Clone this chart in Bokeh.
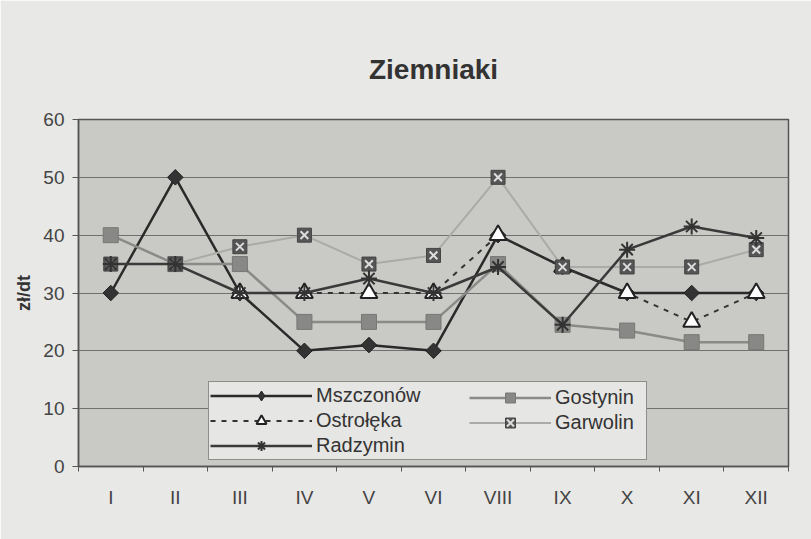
import numpy as np
from bokeh.plotting import figure
from bokeh.models import Range1d, FixedTicker, Legend, LegendItem, Title
from bokeh.embed import file_html
from bokeh.resources import INLINE

months = ["I", "II", "III", "IV", "V", "VI", "VIII", "IX", "X", "XI", "XII"]
mszczonow = [30, 50, 30, 20, 21, 20, 40, 34.5, 30, 30, 30]
gostynin = [40, 35, 35, 25, 25, 25, 35, 24.5, 23.5, 21.5, 21.5]
ostroleka = [np.nan, np.nan, 30, 30, 30, 30, 40, 34.5, 30, 25, 30]
garwolin = [35, 35, 38, 40, 35, 36.5, 50, 34.5, 34.5, 34.5, 37.5]
radzymin = [35, 35, 30, 30, 32.5, 30, 34.5, 24.5, 37.5, 41.5, 39.5]
title_text = "Ziemniaki"
y_ticks = [0, 10, 20, 30, 40, 50, 60]

x = list(range(1, len(months) + 1))
FONT = "Liberation Sans"

p = figure(width=811, height=539, output_backend="svg", toolbar_location=None,
           x_range=Range1d(0.5, len(months) + 0.5), y_range=Range1d(0, 60),
           title=None, min_border_left=78, min_border_right=23,
           min_border_bottom=73, min_border_top=119)

p.background_fill_color = "#c9c9c6"
p.border_fill_color = "#e8e8e6"
p.outline_line_color = "#555555"
p.outline_line_width = 1.5

# spacer between frame and title, then the title itself
spacer = Title(text=" ", text_font=FONT, text_font_size="30px", standoff=0)
main_title = Title(text=title_text, align="center", text_font=FONT,
                   text_font_size="28px", text_font_style="bold",
                   text_color="#333333", standoff=0)
p.add_layout(spacer, "above")
p.add_layout(main_title, "above")

p.xaxis.ticker = FixedTicker(ticks=x, minor_ticks=[i + 0.5 for i in range(0, len(months) + 1)])
p.xaxis.major_label_overrides = {i: m for i, m in zip(x, months)}
p.xaxis.major_tick_line_color = None
p.xaxis.minor_tick_line_color = "#555555"
p.xaxis.minor_tick_out = 5
p.xaxis.minor_tick_in = 0
p.xaxis.major_label_standoff = 14

p.yaxis.ticker = FixedTicker(ticks=y_ticks)
p.yaxis.minor_tick_line_color = None
p.yaxis.major_tick_line_color = "#555555"
p.yaxis.major_tick_out = 6
p.yaxis.major_tick_in = 0
p.yaxis.axis_label = "zł/dt"
p.yaxis.axis_label_text_font = FONT
p.yaxis.axis_label_text_font_style = "bold"
p.yaxis.axis_label_text_font_size = "18px"
p.yaxis.axis_label_text_color = "#333333"
p.yaxis.axis_label_standoff = 6
p.yaxis.major_label_standoff = 8

for ax in (p.xaxis, p.yaxis):
    ax.axis_line_color = "#555555"
    ax.axis_line_width = 1.5
    ax.major_label_text_font = FONT
    ax.major_label_text_font_size = "19px"
    ax.major_label_text_color = "#444444"

p.xgrid.grid_line_color = None
p.ygrid.grid_line_color = "#707070"
p.ygrid.grid_line_width = 1

# Mszczonów
l1 = p.line(x, mszczonow, line_color="#2a2a2a", line_width=2.5)
m1_leg = p.scatter(x, mszczonow, marker="diamond", size=13, fill_color="#333333", line_color="#222222")
m1 = p.scatter(x, mszczonow, marker="square", angle=np.pi / 4, size=11,
               fill_color="#333333", line_color="#222222")
# Gostynin
l2 = p.line(x, gostynin, line_color="#8a8a88", line_width=2.5)
m2 = p.scatter(x, gostynin, marker="square", size=15, fill_color="#888886", line_color="#777775")
# Ostrołęka
l3 = p.line(x, ostroleka, line_color="#333333", line_width=2, line_dash="5 6")
m3 = p.scatter(x, ostroleka, marker="triangle", size=17, fill_color="#ffffff",
               line_color="#222222", line_width=2)
# Garwolin
l4 = p.line(x, garwolin, line_color="#aaaaa8", line_width=2)
m4a = p.scatter(x, garwolin, marker="square", size=14, fill_color="#555555", line_color="#444444")
m4b = p.scatter(x, garwolin, marker="x", size=11, line_color="#dddddd", line_width=2)
# Radzymin
l5 = p.line(x, radzymin, line_color="#3a3a3a", line_width=2.5)
m5 = p.scatter(x, radzymin, marker="asterisk", size=16, line_color="#333333", line_width=2)

PAD, LH, GH, SP, GW, LS = 1, 24, 25, 0, 102, 4

def style(lg):
    lg.label_text_font = FONT
    lg.label_text_font_size = "20px"
    lg.label_text_color = "#333333"
    lg.glyph_width = GW
    lg.glyph_height = GH
    lg.label_standoff = LS
    lg.label_height = LH
    lg.spacing = SP
    lg.padding = PAD
    lg.margin = 0

leg1 = Legend(items=[
    LegendItem(label="Mszczonów", renderers=[l1, m1_leg]),
    LegendItem(label="Ostrołęka", renderers=[l3, m3]),
    LegendItem(label="Radzymin", renderers=[l5, m5]),
], location=(208 - 78, 6))
style(leg1)
leg1.label_width = 645 - 208 - 2 * PAD - GW - LS
leg1.background_fill_color = "#e6e6e4"
leg1.background_fill_alpha = 1
leg1.border_line_color = "#333333"
leg1.border_line_width = 1

h1 = 2 * PAD + 3 * GH + 2 * SP
h2 = 2 * PAD + 2 * GH + SP
leg2 = Legend(items=[
    LegendItem(label="Gostynin", renderers=[l2, m2]),
    LegendItem(label="Garwolin", renderers=[l4, m4a, m4b]),
], location=(470 - 78 - PAD, 6 + h1 - h2))
style(leg2)
leg2.glyph_width = 82
leg2.background_fill_alpha = 0
leg2.border_line_color = None

p.add_layout(leg1)
p.add_layout(leg2)

open("out.html", "w").write(file_html(p, INLINE))
